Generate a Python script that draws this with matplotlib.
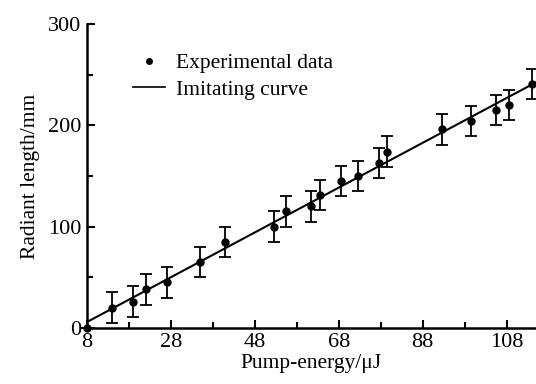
import numpy as np
import matplotlib
matplotlib.use("Agg")
import matplotlib.pyplot as plt
from matplotlib.lines import Line2D
from matplotlib.ticker import MultipleLocator, FixedLocator

plt.rcParams['font.family'] = ['Liberation Serif', 'DejaVu Serif']

energy = [8, 14, 19, 22, 27, 35, 41, 52.5, 55.5, 61.5, 63.5, 68.5, 72.5,
          77.5, 79.5, 92.5, 99.5, 105.5, 108.5, 114]
length = [0, 20, 26, 38, 45, 65, 85, 100, 115, 120, 131, 145, 150,
          163, 174, 196, 204, 215, 220, 241]
err = [0, 15, 15, 15, 15, 15, 15, 15, 15, 15, 15, 15, 15,
       15, 15, 15, 15, 15, 15, 15]

fig = plt.figure(figsize=(5.36, 3.84), dpi=100)
ax = fig.add_axes([0.162, 0.146, 0.838, 0.7915])

# linear fit through the measured points
k, b = np.polyfit(energy, length, 1)
xs = np.array([8, 115])
ax.plot(xs, k * xs + b, color='black', lw=1.5)

ax.errorbar(energy, length, yerr=err, fmt='o', color='black', ms=5,
            capsize=4.3, elinewidth=1.3, capthick=1.3, clip_on=False)

ax.set_xlim(8, 115)
ax.set_ylim(0, 300)
ax.xaxis.set_major_locator(FixedLocator([8, 28, 48, 68, 88, 108]))
ax.xaxis.set_minor_locator(FixedLocator([18, 38, 58, 78, 98]))
ax.yaxis.set_major_locator(MultipleLocator(100))
ax.yaxis.set_minor_locator(MultipleLocator(50))

for s in ['top', 'right']:
    ax.spines[s].set_visible(False)
for s in ['left', 'bottom']:
    ax.spines[s].set_linewidth(1.8)

ax.tick_params(which='major', direction='in', length=6, width=1.5,
               labelsize=16, pad=4)
ax.tick_params(which='minor', direction='in', length=4.5, width=1.5)

ax.set_xlabel('Pump-energy/μJ', fontsize=15.5, labelpad=1)
ax.set_ylabel('Radiant length/mm', fontsize=15.5, labelpad=6)

handles = [Line2D([], [], ls='none', marker='o', ms=4, color='black'),
           Line2D([], [], color='black', lw=1.2)]
ax.legend(handles, ['Experimental data', 'Imitating curve'], loc='upper left',
          bbox_to_anchor=(0.078, 0.94), frameon=False, fontsize=15.5,
          handlelength=1.5, handletextpad=0.5, labelspacing=0.3,
          borderpad=0)

fig.savefig('out.png', dpi=100)
